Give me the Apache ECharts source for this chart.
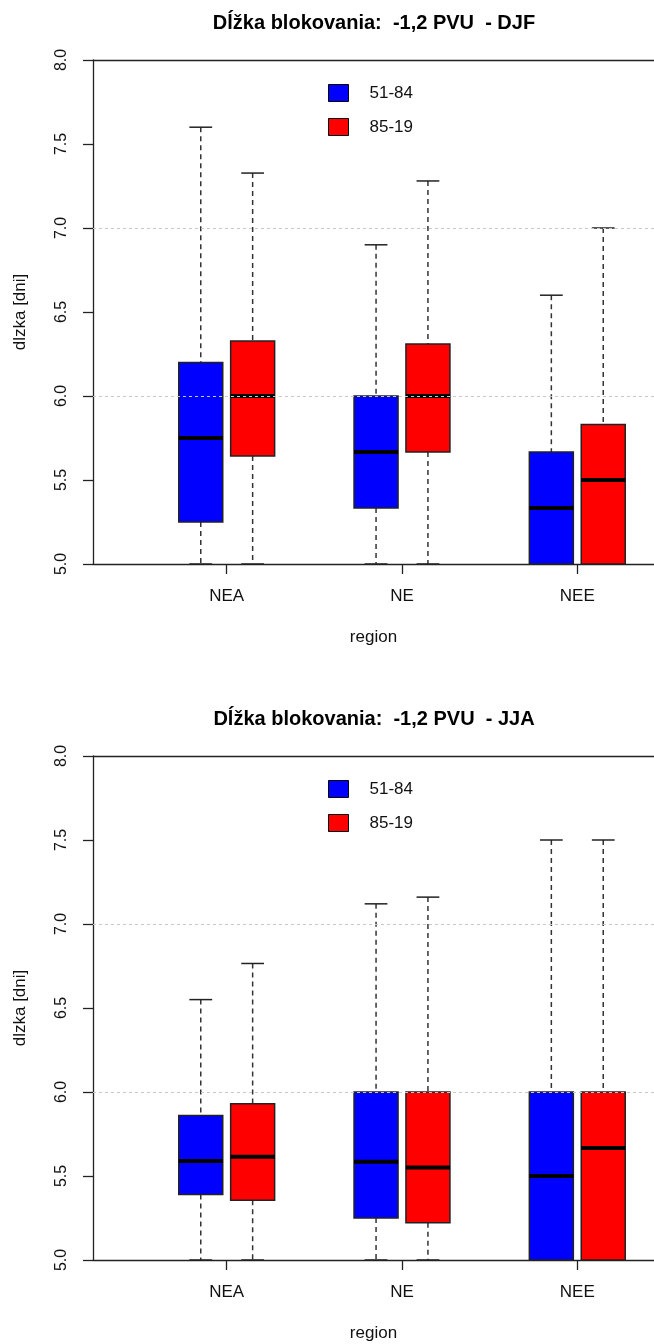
<!DOCTYPE html>
<html>
<head>
<meta charset="utf-8">
<script src="https://cdn.jsdelivr.net/npm/echarts@6/dist/echarts.min.js"></script>
<style>
  html, body { margin: 0; padding: 0; background: #fff; }
  #chart { width: 654px; height: 1344px; }
</style>
</head>
<body>
<div id="chart"></div>
<script>
// ---------- data ----------
const categories = ['NEA', 'NE', 'NEE'];
const seriesNames = ['51-84', '85-19'];
const chartTitles = ['Dĺžka blokovania:  -1,2 PVU  - DJF', 'Dĺžka blokovania:  -1,2 PVU  - JJA'];
const yAxisName = 'dlzka [dni]';
const xAxisName = 'region';
// each box: [min, q1, median, q3, max]
const djf5184 = [[5.0, 5.25, 5.75, 6.2, 7.6], [5.0, 5.333, 5.667, 6.0, 6.9], [5.0, 5.0, 5.333, 5.667, 6.6]];
const djf8519 = [[5.0, 5.643, 6.0, 6.327, 7.327], [5.0, 5.667, 6.0, 6.31, 7.28], [5.0, 5.0, 5.5, 5.83, 7.0]];
const jja5184 = [[5.0, 5.39, 5.59, 5.86, 6.55], [5.0, 5.25, 5.585, 6.0, 7.12], [5.0, 5.0, 5.5, 6.0, 7.5]];
const jja8519 = [[5.0, 5.355, 5.615, 5.93, 6.765], [5.0, 5.222, 5.55, 6.0, 7.16], [5.0, 5.0, 5.667, 6.0, 7.5]];
const yMin = 5, yMax = 8, yStep = 0.5;
const refLines = [6, 7];

// ---------- layout / style ----------
const FONT = '"Liberation Sans", Arial, sans-serif';
const colors = ['#0000ff', '#ff0000'];
const BOX_W = 0.251, OFFSET = 0.148, CAP_W = 0.13;
const X_MIN = 0.2373, X_MAX = 3.4376;
const gridTops = [60, 756];
const GRID_H = 504;

function makeRender(offset, color) {
  return function (params, api) {
    const x = api.value(0) + offset;
    const mn = api.coord([x, api.value(1)]);
    const q1 = api.coord([x, api.value(2)]);
    const md = api.coord([x, api.value(3)]);
    const q3 = api.coord([x, api.value(4)]);
    const mx = api.coord([x, api.value(5)]);
    const hw = api.size([BOX_W, 0])[0] / 2;
    const cw = api.size([CAP_W, 0])[0] / 2;
    const cx = q1[0];
    const whisk = { stroke: '#333', lineWidth: 1.5, lineDash: [5, 4] };
    const cap = { stroke: '#222', lineWidth: 1.5 };
    return {
      type: 'group',
      children: [
        { type: 'line', shape: { x1: cx, y1: mx[1], x2: cx, y2: q3[1] }, style: whisk },
        { type: 'line', shape: { x1: cx, y1: q1[1], x2: cx, y2: mn[1] }, style: whisk },
        { type: 'line', shape: { x1: cx - cw, y1: mx[1], x2: cx + cw, y2: mx[1] }, style: cap },
        { type: 'line', shape: { x1: cx - cw, y1: mn[1], x2: cx + cw, y2: mn[1] }, style: cap },
        { type: 'rect', shape: { x: cx - hw, y: q3[1], width: hw * 2, height: q1[1] - q3[1] },
          style: { fill: color, stroke: '#222', lineWidth: 1.5 } },
        { type: 'line', shape: { x1: cx - hw, y1: md[1], x2: cx + hw, y2: md[1] },
          style: { stroke: '#000', lineWidth: 4 } }
      ]
    };
  };
}

function boxData(arr) {
  return arr.map((b, i) => [i + 1].concat(b));
}

const panels = [[djf5184, djf8519], [jja5184, jja8519]];

const option = {
  animation: false,
  backgroundColor: '#fff',
  textStyle: { fontFamily: FONT },
  title: chartTitles.map((t, i) => ({
    text: t, left: 369, top: gridTops[i] - 52, textAlign: 'center',
    textStyle: { fontFamily: FONT, fontSize: 20, fontWeight: 'bold', color: '#000' }
  })),
  legend: gridTops.map(top => ({
    data: seriesNames, orient: 'vertical', left: 328, top: top + 24,
    itemWidth: 20, itemHeight: 17, itemGap: 16, padding: 0, icon: 'rect',
    itemStyle: { borderColor: '#000', borderWidth: 1 },
    textStyle: { fontFamily: FONT, fontSize: 17, color: '#111', padding: [0, 0, 0, 16] },
    selectedMode: false
  })),
  grid: gridTops.map(top => ({
    left: 93, right: 0, top: top, height: GRID_H, show: false
  })),
  xAxis: gridTops.map((t, i) => ({
    type: 'value', gridIndex: i, min: X_MIN, max: X_MAX,
    name: xAxisName, nameLocation: 'middle', nameGap: 65,
    nameTextStyle: { fontFamily: FONT, fontSize: 17, color: '#111' },
    axisLine: { show: true, onZero: false, lineStyle: { color: '#222', width: 1.3 } },
    axisTick: { show: true, length: 10, customValues: [1, 2, 3], lineStyle: { color: '#222', width: 1.3 } },
    axisLabel: { show: true, customValues: [1, 2, 3], margin: 24, fontFamily: FONT, fontSize: 17, color: '#111',
      formatter: v => categories[Math.round(v) - 1] || '' },
    splitLine: { show: false }
  })),
  yAxis: gridTops.map((t, i) => ({
    type: 'value', gridIndex: i, min: yMin, max: yMax, interval: yStep,
    name: yAxisName, nameLocation: 'middle', nameGap: 64, nameRotate: 90,
    nameTextStyle: { fontFamily: FONT, fontSize: 17, color: '#111' },
    axisLine: { show: true, lineStyle: { color: '#222', width: 1.3 } },
    axisTick: { show: true, length: 10, lineStyle: { color: '#222', width: 1.3 } },
    axisLabel: { rotate: 90, margin: 23, fontFamily: FONT, fontSize: 16, color: '#111',
      formatter: v => v.toFixed(1) },
    splitLine: { show: false }
  })),
  series: []
};

panels.forEach((pair, gi) => {
  option.series.push({
    type: 'line', xAxisIndex: gi, yAxisIndex: gi, data: [], silent: true,
    markLine: {
      silent: true, symbol: ['none', 'none'], label: { show: false },
      data: refLines.map(v => ({ yAxis: v, lineStyle: { color: '#c8c8c8', type: [3, 3], width: 1 } }))
        .concat([{ yAxis: yMax, lineStyle: { color: '#222', type: 'solid', width: 1.3 } }])
    }
  });
  pair.forEach((arr, si) => {
    option.series.push({
      name: seriesNames[si], type: 'custom', xAxisIndex: gi, yAxisIndex: gi,
      itemStyle: { color: colors[si] },
      renderItem: makeRender(si === 0 ? -OFFSET : OFFSET, colors[si]),
      encode: { x: 0, y: [1, 2, 3, 4, 5] },
      data: boxData(arr)
    });
  });
});

const chart = echarts.init(document.getElementById('chart'), null, { renderer: 'canvas' });
chart.setOption(option);
</script>
</body>
</html>
